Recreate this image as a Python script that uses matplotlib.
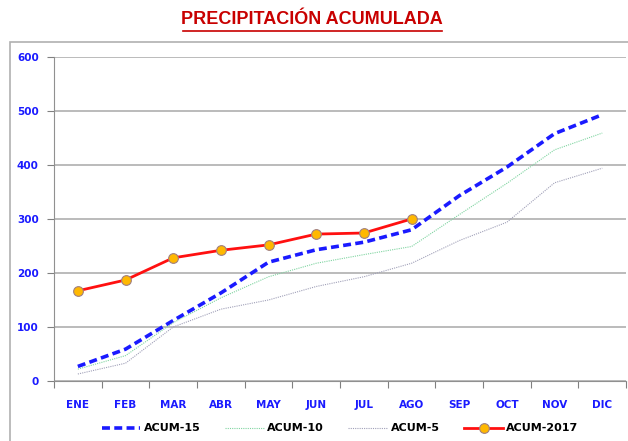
import matplotlib.pyplot as plt
from matplotlib.patches import Rectangle
from matplotlib import font_manager

meses = ['ENE', 'FEB', 'MAR', 'ABR', 'MAY', 'JUN', 'JUL', 'AGO', 'SEP', 'OCT', 'NOV', 'DIC']
acum15 = [27, 59, 112, 163, 220, 243, 257, 280, 343, 396, 458, 493]
acum10 = [22, 47, 108, 154, 193, 218, 234, 249, 308, 366, 428, 459]
acum5 = [13, 33, 100, 133, 150, 175, 193, 218, 260, 294, 367, 394]
acum2017 = [167, 187, 228, 242, 252, 272, 274, 300]

names = {f.name for f in font_manager.fontManager.ttflist}
titlefont = 'Liberation Sans Narrow' if 'Liberation Sans Narrow' in names else 'Liberation Sans'

fig = plt.figure(figsize=(6.28, 4.41), dpi=100)
ax = fig.add_axes([0.086, 0.136, 0.911, 0.735])

# chart frame
fig.patches.append(Rectangle((10/628, -0.01), 1.0, 1 - 42/441 + 0.01, transform=fig.transFigure,
                             fill=False, edgecolor='#b0b0b0', lw=1.2))
fig.patches.append(Rectangle((-0.01, -0.01), 4/628, 1 - 42/441 + 0.01, transform=fig.transFigure,
                             fill=False, edgecolor='#b0b0b0', lw=1.2))

x = list(range(len(meses)))
ax.plot(x, acum15, color='#1a1aff', lw=2.6, ls=(0, (2.2, 1.2)), label='ACUM-15')
ax.plot(x, acum10, color='#7fd4a0', lw=0.8, ls=(0, (1, 1)), label='ACUM-10')
ax.plot(x, acum5, color='#a0a0b8', lw=0.8, ls=(0, (1, 1)), label='ACUM-5')
ax.plot(x[:len(acum2017)], acum2017, color='#ff1010', lw=2, marker='o', ms=7,
        mfc='#ffb800', mec='#a08080', mew=0.8, label='ACUM-2017')

ax.set_xlim(-0.5, 11.5)
ax.set_ylim(0, 600)
ax.set_yticks(range(0, 601, 100))
ax.set_xticks([i + 0.5 for i in range(-1, 12)])
ax.set_xticklabels([])
ax.set_xticks(x, minor=True)
ax.set_xticklabels(meses, minor=True)
ax.tick_params(axis='x', which='minor', length=0, pad=14)
ax.tick_params(axis='x', which='major', length=5, color='#808080', direction='out')
ax.tick_params(axis='y', length=5, color='#808080', pad=6)
for lab in ax.get_xticklabels(minor=True) + ax.get_yticklabels():
    lab.set_color('#1a1aff')
    lab.set_fontweight('bold')
    lab.set_fontsize(7.5)
ax.grid(axis='y', color='#a8a8a8', lw=1.1)
ax.set_axisbelow(True)
for s in ['top', 'right']:
    ax.spines[s].set_visible(False)
for s in ['left', 'bottom']:
    ax.spines[s].set_color('#909090')

leg = ax.legend(loc='upper center', bbox_to_anchor=(0.5, -0.1), ncol=4, frameon=False,
                prop={'weight': 'bold', 'size': 8}, handlelength=3.5, columnspacing=2.2,
                handletextpad=0.3)

fig.text(0.497, 0.955, 'PRECIPITACIÓN ACUMULADA', ha='center', va='center', color='#c80000',
         fontsize=13, fontweight='bold', family=titlefont)
fig.add_artist(plt.Line2D([183/628, 442/628], [1 - 31/441] * 2, color='#c80000', lw=1.2,
                          transform=fig.transFigure))

fig.savefig('out.png', dpi=100)
